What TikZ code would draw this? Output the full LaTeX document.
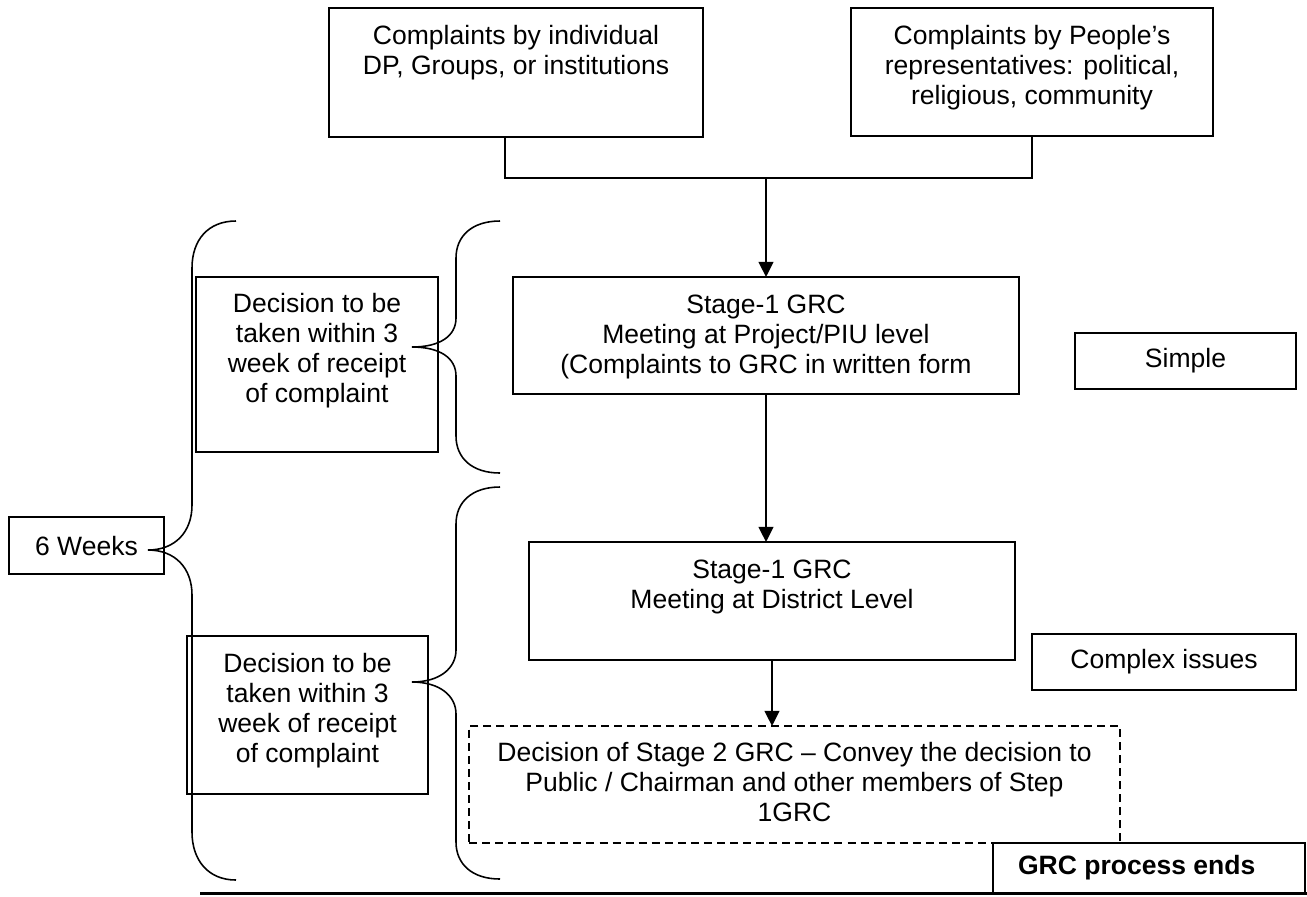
\documentclass[tikz,border=0pt]{standalone}
\usepackage{fontspec}
\setmainfont{Liberation Sans}
\usetikzlibrary{arrows.meta,calc}
\newlength\pxu \setlength\pxu{0.475pt}
\newcommand\tbox[4]{\parbox[c][#2\pxu][t]{#1\pxu}{\centering\rule{0pt}{#3\pxu}#4\par}}
\newcommand\cbox[3]{\parbox[c][#2\pxu][c]{#1\pxu}{\centering #3\par}}
\begin{document}
\begin{tikzpicture}[x=0.475pt,y=-0.475pt,
  box/.style={draw,line width=0.95pt,inner sep=0pt,outer sep=0pt,anchor=north west},
  conn/.style={line width=0.95pt},
  arr/.style={line width=0.95pt,-{Triangle[length=7.2pt,width=7pt]}},
  brace/.style={line width=0.75pt},
  dashbox/.style={dash pattern=on 3.8pt off 2.4pt},
  every node/.style={font=\fontsize{12.6}{14.25}\selectfont}]
\useasboundingbox (0,0) rectangle (1307,896);

% boxes
\node[box] (c1) at (329,8) {\tbox{374}{129}{36}{Complaints by individual\\DP, Groups, or institutions}};
\node[box] (c2) at (851,8) {\tbox{362}{128}{36}{Complaints by People’s\\representatives: political,\\religious, community}};
\node[box] (s1) at (513,277) {\tbox{506}{117}{36}{Stage-1 GRC\\Meeting at Project/PIU level\\(Complaints to GRC in written form}};
\node[box] (s2) at (529,542) {\tbox{486}{118}{36}{Stage-1 GRC\\Meeting at District Level}};
\node[box,dashbox] (d) at (469,726) {\tbox{651}{117}{35}{Decision of Stage 2 GRC – Convey the decision to\\Public / Chairman and other members of Step\\1GRC}};
\node[box] (t1) at (196,277) {\tbox{242}{175}{35}{Decision to be\\taken within 3\\week of receipt\\of complaint}};
\node[box] (t2) at (187,636) {\tbox{241}{158}{36}{Decision to be\\taken within 3\\week of receipt\\of complaint}};
\node[box] (w) at (9,517) {\cbox{155}{57}{6 Weeks}};
\node[box] (simple) at (1075,333) {\cbox{221}{56}{Simple}};
\node[box] (complex) at (1032,634) {\cbox{264}{56}{Complex issues}};
\node[box] (end) at (993,843) {\parbox[c][50\pxu][c]{312\pxu}{\hspace*{25\pxu}\textbf{GRC process ends}}};

% connectors
\coordinate (j) at (766,178);
\draw[conn] ($(c1.south)+(-11,0)$) |- (j) -| (c2.south);
\draw[arr] (j) -- (s1.north);
\draw[arr] (s1.south) -- (s1.south |- s2.north);
\draw[arr] (s2.south) -- (s2.south |- d.north);

% bottom rule
\coordinate (bl) at (200,893);
\coordinate (br) at (1307,893);
\draw[line width=1.4pt] (bl) -- (br);

% braces
\draw[brace] (236,221) .. controls (208,221) and (192,240) .. (192,268) -- (192,505)
  .. controls (192,532) and (175,550) .. (148,550)
  .. controls (175,550) and (192,568) .. (192,595) -- (192,832)
  .. controls (192,860) and (208,880) .. (236,880);
\draw[brace] (500,221) .. controls (472,221) and (456,236) .. (456,258) -- (456,318)
  .. controls (456,336) and (440,347) .. (412,347)
  .. controls (440,347) and (456,358) .. (456,376) -- (456,436)
  .. controls (456,458) and (472,473) .. (500,473);
\draw[brace] (500,487) .. controls (472,487) and (456,502) .. (456,524) -- (456,650)
  .. controls (456,668) and (440,682) .. (412,682)
  .. controls (440,682) and (456,696) .. (456,714) -- (456,842)
  .. controls (456,864) and (472,879) .. (500,879);
\end{tikzpicture}
\end{document}
